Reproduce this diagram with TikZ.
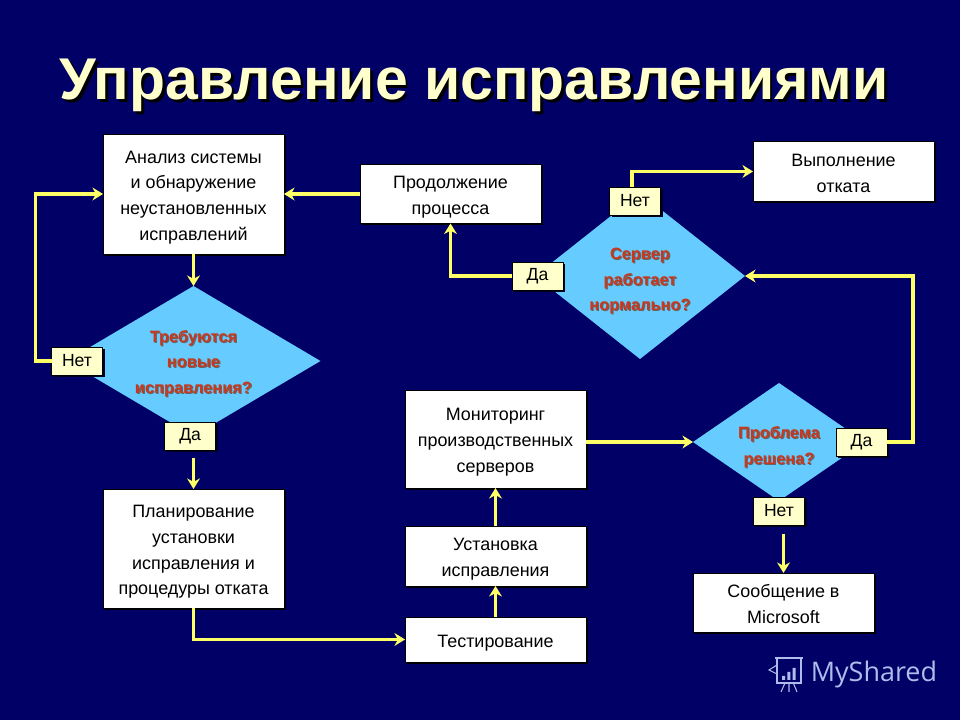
\documentclass[tikz,border=0pt]{standalone}
\usepackage{fontspec}
\setmainfont{Liberation Sans}
\newfontfamily\markfont{Open Sans}
\usepackage{tikz}
\usetikzlibrary{positioning,arrows.meta,calc,shapes.geometric,shadows}
\definecolor{slidebg}{HTML}{000066}
\definecolor{flowline}{HTML}{FFFF66}
\definecolor{decisionfill}{HTML}{66CCFF}
\definecolor{decisiontext}{HTML}{C8381E}
\definecolor{tagfill}{HTML}{FFFFCC}
\definecolor{markcolor}{HTML}{AEBDEB}
\newcommand{\castline}[3]{\leavevmode\rlap{\kern#2\raisebox{-#2}{\color{#1}#3}}#3}
\newcommand{\asked}[2][-5pt]{\makebox[0pt]{\smash{\raisebox{#1}{\begin{tabular}[c]{@{}c@{}}#2\end{tabular}}}}}
\newcommand{\said}[1]{\asked[-5.8pt]{#1}}

\begin{document}
\begin{tikzpicture}[
			node distance=1cm,
			block/.style={draw=black,line width=0.6pt,fill=white,outer sep=0pt,minimum width=5.43cm,
				font=\fontsize{15.3}{22}\selectfont,
				drop shadow={shadow xshift=0.06cm,shadow yshift=-0.06cm,fill=black,opacity=1}},
			decision/.style={diamond,fill=decisionfill,inner sep=0pt,outer sep=0pt,
				text=decisiontext,font=\bfseries\fontsize{14}{22}\selectfont},
			tag/.style={draw=black,line width=0.8pt,fill=tagfill,outer sep=0pt,minimum width=1.53cm,minimum height=0.84cm,
				font=\fontsize{15}{18}\selectfont,
				drop shadow={shadow xshift=0.07cm,shadow yshift=-0.07cm,fill=black!70!slidebg,opacity=1}},
			flow/.style={draw=flowline,line width=2.7pt,>={Stealth[length=9pt,width=11pt]}},
			>=Stealth
			]
			
			\fill[slidebg] (0,0) rectangle (28.8,21.6);
			\useasboundingbox (0,0) rectangle (28.8,21.6);
			
			\node[text=tagfill,font=\bfseries\fontsize{50.3}{56}\selectfont] (title) at (14.22,19)
			{\castline{black}{2.5pt}{Управление исправлениями}};
			
			\node[block,minimum height=3.6cm] (analysis) at (5.805,15.78)
			{\said{Анализ системы\\и обнаружение\\неустановленных\\исправлений}};
			
			\node[decision,minimum width=7.62cm,minimum height=4.5cm,below=0.96cm of analysis] (needed)
			{\asked{\castline{black!60}{0.9pt}{Требуются}\\\castline{black!60}{0.9pt}{новые}\\\castline{black!60}{0.9pt}{исправления?}}};
			
			\node[tag,left=-1.08cm of needed] (neededno) {Нет};
			\node[tag,below=-0.42cm of needed,xshift=-0.1cm] (neededyes) {Да};
			
			\node[block,minimum height=3.57cm,below=1.17cm of neededyes,xshift=0.1cm] (plan)
			{\said{Планирование\\установки\\исправления и\\процедуры отката}};
			
			\node[block,minimum height=1.35cm,below right=0.27cm and 3.63cm of plan] (test)
			{\said{Тестирование}};
			
			\node[block,minimum height=1.8cm,above=0.93cm of test] (install)
			{\said{Установка\\исправления}};
			
			\node[block,minimum height=2.94cm,above=1.14cm of install] (monitor)
			{\said{Мониторинг\\производственных\\серверов}};
			
			\node[decision,minimum width=5.16cm,minimum height=3.54cm,right=3.21cm of monitor,yshift=-0.09cm] (solved)
			{\asked[-7pt]{\castline{black!60}{0.9pt}{Проблема}\\\castline{black!60}{0.9pt}{решена?}}};
			
			\node[tag,right=-0.87cm of solved] (solvedyes) {Да};
			\node[tag,below=-0.12cm of solved] (solvedno) {Нет};
			
			\node[block,minimum height=1.77cm,below=1.44cm of solvedno,xshift=0.135cm] (report)
			{\said{Сообщение в\\Microsoft}};
			
			\node[decision,minimum width=6.3cm,minimum height=4.98cm,above=0.72cm of solved,xshift=-4.17cm] (server)
			{\asked[-7pt]{\castline{black!60}{0.9pt}{Сервер}\\\castline{black!60}{0.9pt}{работает}\\\castline{black!60}{0.9pt}{нормально?}}};
			
			\node[tag,above=-0.66cm of server,xshift=-0.15cm] (serverno) {Нет};
			\node[tag,left=-0.84cm of server] (serveryes) {Да};
			
			\node[block,minimum height=1.77cm,right=2.28cm of analysis] (resume)
			{\said{Продолжение\\процесса}};
			
			\node[block,minimum height=1.8cm,right=6.36cm of resume,yshift=0.675cm] (rollback)
			{\said{Выполнение\\отката}};
			
			\node[text=markcolor,font=\markfont\fontsize{23}{28}\selectfont,anchor=west] (mark) at (24.2,1.35) {MyShared};
			
			\draw[flow,->] (analysis)--(needed);
			\draw[flow,->] (neededno.west)--++(-0.48,0)|-(analysis.west);
			\draw[flow,->,shorten <=0.24cm] (neededyes.south -| plan.north)--(plan.north);
			\draw[flow,->] (plan.south)|-(test.west);
			\draw[flow,->] (test)--(install);
			\draw[flow,->] (install)--(monitor);
			\draw[flow,->] (monitor.east |- solved.west)--(solved.west);
			\draw[flow,->] (solvedyes.east)--++(0.78,0)|-(server.east);
			\draw[flow,->,shorten <=0.27cm] (solvedno.south -| report.north)--(report.north);
			\draw[flow,->] (serveryes.west)-|(resume.south);
			\draw[flow,->] ($(serverno.north)+(-0.09,0)$)|-(rollback.west);
			\draw[flow,->] (resume.west)--(analysis.east);
			
			\begin{scope}[draw=markcolor,line width=0.9pt]
				\draw (23.25,1.86)--(24.09,1.86) (23.31,1.86)--(23.31,1.11)--(24.03,1.11)--(24.03,1.86);
				\draw (23.31,1.65)--(23.07,1.5)--(23.31,1.38);
				\draw (23.55,1.11)--(23.43,0.84) (23.67,1.11)--(23.67,0.84) (23.8,1.11)--(23.91,0.84);
			\end{scope}
			\fill[markcolor] (23.46,1.2) rectangle (23.55,1.32) (23.62,1.2) rectangle (23.71,1.44) (23.78,1.2) rectangle (23.87,1.56);
			
		\end{tikzpicture}
\end{document}
